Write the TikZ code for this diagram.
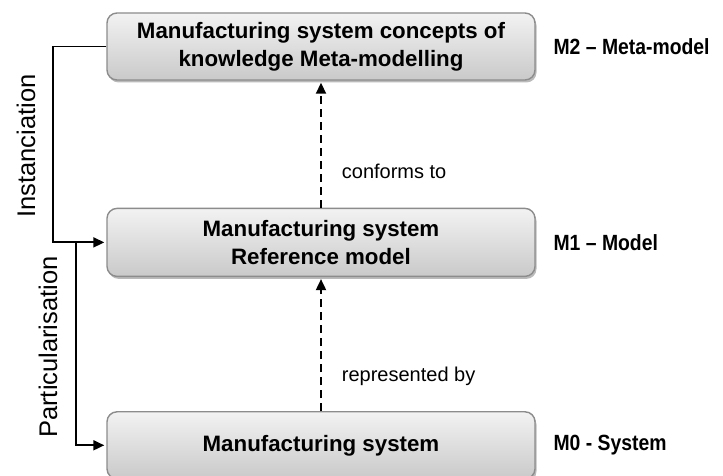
\documentclass[tikz,border=0pt]{standalone}
\usepackage{fontspec}
\setmainfont{Liberation Sans}
\newfontfamily\narrowfont[FakeStretch=0.88]{Liberation Sans}
\usepackage{tikz}
\usetikzlibrary{positioning}
\usetikzlibrary{arrows.meta}
\usetikzlibrary{shadows}

\begin{document}
\begin{tikzpicture}[
            x = 1pt, y = 1pt,
            > = {Triangle[length=11pt,width=10pt]}, % arrow head style
            shorten > = 2pt, % don't touch arrow head to node
            node distance = 127pt, % distance between boxes
            line width = 1.8pt
        ]

        \tikzstyle{level}=[
            draw = black!45,
            line width = 1.4pt,
            rounded corners = 10pt,
            top color = black!5,
            bottom color = black!21,
            drop shadow = {shadow xshift=1.5pt, shadow yshift=-2.5pt, fill=black!60, opacity=0.45},
            minimum width = 428pt,
            minimum height = 67pt,
            align = center,
            font = \bfseries\fontsize{22.3}{28}\selectfont
        ]
        \tikzstyle{layer}=[
            inner sep = 0pt,
            font = \narrowfont\bfseries\fontsize{22}{26}\selectfont
        ]
        \tikzstyle{relation}=[
            anchor = base west,
            inner sep = 0pt,
            xshift = 20pt,
            font = \fontsize{20}{24}\selectfont
        ]
        \tikzstyle{side}=[
            rotate = 90,
            inner sep = 0pt,
            font = \fontsize{25.5}{30}\selectfont
        ]

        \useasboundingbox (0,0) rectangle (723,476);

	% meta-model level
        \node[level] (meta) at (321,429.5) {Manufacturing system concepts of\\knowledge Meta-modelling};
        \node[layer] (M2) [right=17pt of meta] {M2 – Meta-model};

	% model level
        \node[level, minimum height=68pt] (model) [below=of meta] {Manufacturing system\\Reference model};
        \node[layer] (M1) [right=17pt of model] {M1 – Model};

	% system level
        \node[level] (sys) [below=134pt of model] {Manufacturing system};
        \node[layer] (M0) [right=17pt of sys] {M0 - System};

        \path[dash pattern=on 8pt off 5pt, line width=1.8pt, ->] (model) edge node[relation, pos=0.23] {conforms to} (meta);
        \path[dash pattern=on 8pt off 5pt, line width=1.8pt, ->] (sys) edge node[relation, pos=0.22] {represented by} (model);

	% instanciation and particularisation
        \draw[->] (meta.west) -- ++(-53pt,0) |- (model.west);
        \coordinate[left=30pt of model.west] (branch);
        \draw[->] (branch) |- (sys.west);

        \node[side] (inst) at (26,330) {Instanciation};
        \node[side] (part) at (48,129) {Particularisation};

  \end{tikzpicture}
\end{document}
